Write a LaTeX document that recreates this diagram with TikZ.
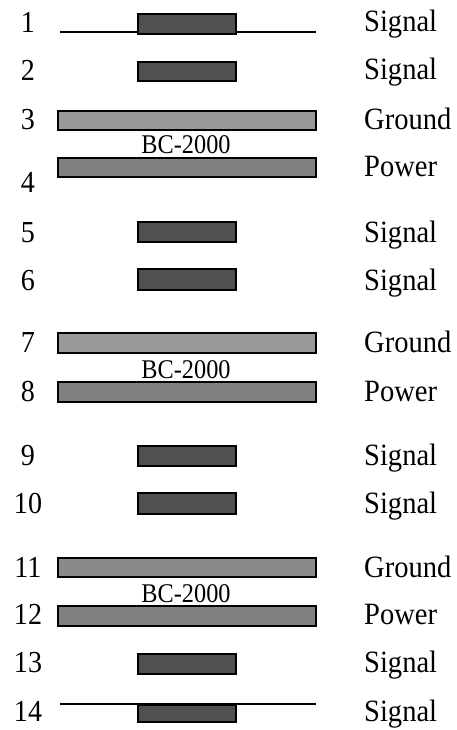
\documentclass[tikz,border=0pt]{standalone}
\usepackage{fontspec}
\setmainfont{Liberation Serif}
\newfontfamily\labfont[FakeStretch=0.92]{Liberation Serif}
\newfontfamily\bcfont[FakeStretch=0.9]{Liberation Serif}
\begin{document}
\begin{tikzpicture}[x=1pt,y=-1pt,
  sig/.style={draw=black,line width=1.4pt,fill=sigfill},
  gnd/.style={draw=black,line width=1.4pt,fill=gndfill},
  pwr/.style={draw=black,line width=1.4pt,fill=pwrfill},
  num/.style={anchor=base,inner sep=0pt,font=\labfont\fontsize{30.5}{32}\selectfont},
  lab/.style={anchor=base west,inner sep=0pt,font=\labfont\fontsize{31}{33}\selectfont},
  bc/.style={anchor=base,inner sep=0pt,font=\bcfont\fontsize{27}{29}\selectfont},
  wire/.style={line width=1.4pt}]
\definecolor{sigfill}{HTML}{505050}
\definecolor{gndfill}{HTML}{999999}
\definecolor{pwrfill}{HTML}{808080}
\definecolor{gndfillb}{HTML}{8A8A8A}
\useasboundingbox (0,0) rectangle (457,730);
% row 1
\coordinate (w1a) at (60,32); \coordinate (w1b) at (316,32);
\draw[wire] (w1a) -- (w1b);
\draw[sig] (138,14) rectangle (236,34);
% row 2
\draw[sig] (138,62) rectangle (236,81);
% rows 3-4
\draw[gnd] (58,111) rectangle (316,130);
\draw[pwr] (58,158) rectangle (316,177);
% rows 5-6
\draw[sig] (138,222) rectangle (236,242);
\draw[sig] (138,269) rectangle (236,290);
% rows 7-8
\draw[gnd] (58,333) rectangle (316,353);
\draw[pwr] (58,382) rectangle (316,402);
% rows 9-10
\draw[sig] (138,446) rectangle (236,466);
\draw[sig] (138,493) rectangle (236,514);
% rows 11-12
\draw[gnd,fill=gndfillb] (58,558) rectangle (316,577);
\draw[pwr] (58,606) rectangle (316,626);
% row 13
\draw[sig] (138,654) rectangle (236,674);
% row 14
\draw[sig] (138,705) rectangle (236,722);
\coordinate (w14a) at (60,704); \coordinate (w14b) at (316,704);
\draw[wire] (w14a) -- (w14b);
% BC labels
\node[bc] (bc1) at (186,154) {BC-2000};
\node[bc] (bc2) at (186,378) {BC-2000};
\node[bc] (bc3) at (186,602) {BC-2000};
% numbers
\node[num] (n1) at (28,33) {1};
\node[num] (n2) at (28,81) {2};
\node[num] (n3) at (28,130) {3};
\node[num] (n4) at (28,192) {4};
\node[num] (n5) at (28,242) {5};
\node[num] (n6) at (28,290) {6};
\node[num] (n7) at (28,352) {7};
\node[num] (n8) at (28,401) {8};
\node[num] (n9) at (28,465) {9};
\node[num] (n10) at (28,513) {10};
\node[num] (n11) at (28,577) {11};
\node[num] (n12) at (28,624) {12};
\node[num] (n13) at (28,672) {13};
\node[num] (n14) at (28,721) {14};
% right labels
\node[lab] (l1) at (364,32) {Signal};
\node[lab] (l2) at (364,80) {Signal};
\node[lab] (l3) at (364,130) {Ground};
\node[lab] (l4) at (364,177) {Power};
\node[lab] (l5) at (364,242) {Signal};
\node[lab] (l6) at (364,290) {Signal};
\node[lab] (l7) at (364,352) {Ground};
\node[lab] (l8) at (364,401) {Power};
\node[lab] (l9) at (364,465) {Signal};
\node[lab] (l10) at (364,513) {Signal};
\node[lab] (l11) at (364,577) {Ground};
\node[lab] (l12) at (364,624) {Power};
\node[lab] (l13) at (364,672) {Signal};
\node[lab] (l14) at (364,721) {Signal};
\end{tikzpicture}
\end{document}
